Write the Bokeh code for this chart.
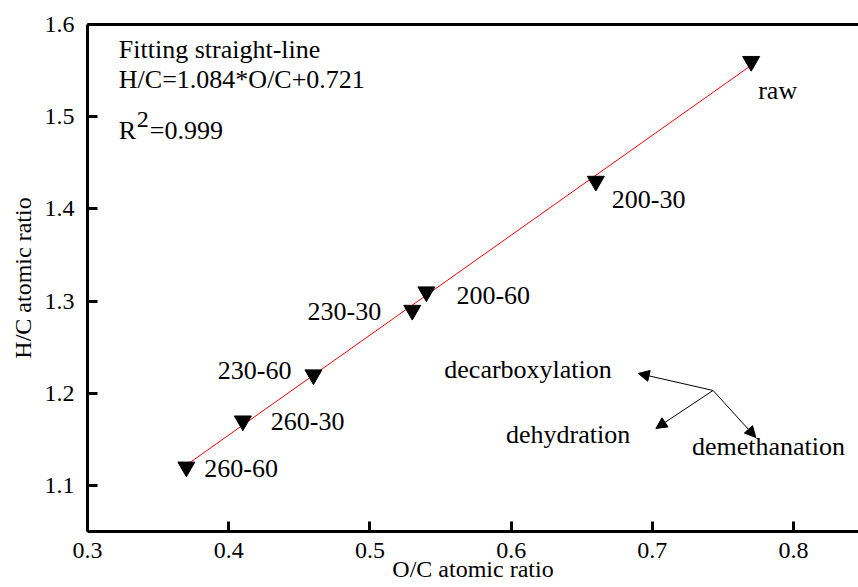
import math
from bokeh.plotting import figure
from bokeh.models import (Range1d, FixedTicker, LinearAxis, Label, Arrow,
                          NormalHead, ColumnDataSource)
from bokeh.embed import file_html
from bokeh.resources import INLINE

# ---------------- data ----------------
oc_ratio = [0.77, 0.66, 0.54, 0.53, 0.46, 0.41, 0.37]
hc_ratio = [1.56, 1.43, 1.31, 1.29, 1.22, 1.17, 1.12]
sample_names = ["raw", "200-30", "200-60", "230-30", "230-60", "260-30", "260-60"]

fit_slope = 1.084
fit_intercept = 0.721
fit_r2 = "0.999"

x_ticks = [0.3, 0.4, 0.5, 0.6, 0.7, 0.8]
y_ticks = [1.1, 1.2, 1.3, 1.4, 1.5, 1.6]

# reaction-pathway arrows (origin -> three directions)
arrow_origin = (0.743, 1.203)
arrow_names = ["decarboxylation", "dehydration", "demethanation"]
arrow_tips_x = [0.690, 0.7025, 0.7733]
arrow_tips_y = [1.2215, 1.1618, 1.152]

# ---------------- layout / style ----------------
FONT = "Liberation Serif"
label_dx = [7, 16, 30, -31, -22, 28, 18]
label_dy = [29, 18, 4, 1, -4, 1, 2]
label_align = ["left", "left", "left", "right", "right", "left", "left"]
arrow_label_pos = [(0.612, 1.2258), (0.6403, 1.1553), (0.7822, 1.1423)]

p = figure(width=858, height=587,
           x_range=Range1d(0.3, 0.846), y_range=Range1d(1.05, 1.6),
           output_backend="svg", toolbar_location=None,
           min_border_left=87, min_border_right=0,
           min_border_top=24, min_border_bottom=56)
p.outline_line_color = None
p.xgrid.visible = False
p.ygrid.visible = False
p.background_fill_color = "white"
p.border_fill_color = "white"

for ax, ticks in ((p.xaxis[0], x_ticks), (p.yaxis[0], y_ticks)):
    ax.ticker = FixedTicker(ticks=ticks)
    ax.axis_line_width = 3
    ax.axis_line_color = "black"
    ax.major_tick_in = 10
    ax.major_tick_out = 0
    ax.major_tick_line_width = 3
    ax.major_tick_line_color = "black"
    ax.minor_tick_line_color = None
    ax.major_label_text_font = FONT
    ax.major_label_text_font_size = "24px"
    ax.major_label_text_color = "black"
    ax.axis_label_text_font = FONT
    ax.axis_label_text_font_size = "24px"
    ax.axis_label_text_font_style = "normal"
    ax.axis_label_text_color = "black"
p.xaxis[0].major_label_standoff = 11
p.yaxis[0].major_label_standoff = 13
p.xaxis[0].axis_label = "O/C atomic ratio"
p.yaxis[0].axis_label = "H/C atomic ratio"
p.xaxis[0].axis_label_standoff = -5
p.yaxis[0].axis_label_standoff = 6

top = LinearAxis(ticker=FixedTicker(ticks=[]))
top.axis_line_width = 3
top.axis_line_color = "black"
top.major_tick_in = 0
top.major_tick_out = 0
top.minor_tick_line_color = None
top.major_label_standoff = 0
p.add_layout(top, "above")

# fitted line
fit_x = [min(oc_ratio), max(oc_ratio)]
fit_y = [fit_slope * x + fit_intercept for x in fit_x]
p.line(fit_x, fit_y, line_color="red", line_width=1)

# markers
p.scatter(oc_ratio, hc_ratio, marker="inverted_triangle", size=17,
          fill_color="black", line_color="black")

# point labels
for align in ("left", "right"):
    idx = [i for i, a in enumerate(label_align) if a == align]
    src = ColumnDataSource(dict(
        x=[oc_ratio[i] for i in idx], y=[hc_ratio[i] for i in idx],
        t=[sample_names[i] for i in idx],
        dx=[label_dx[i] for i in idx], dy=[label_dy[i] for i in idx]))
    p.text(x="x", y="y", text="t", x_offset="dx", y_offset="dy", source=src,
           text_align=align, text_baseline="middle",
           text_font={"value": FONT}, text_font_size="26px", text_color="black")

# arrows
for tx, ty in zip(arrow_tips_x, arrow_tips_y):
    p.add_layout(Arrow(end=NormalHead(size=11, fill_color="black", line_color="black", line_width=1),
                       x_start=arrow_origin[0], y_start=arrow_origin[1],
                       x_end=tx, y_end=ty, line_width=1, line_color="black"))
for name, (lx, ly) in zip(arrow_names, arrow_label_pos):
    p.add_layout(Label(x=lx, y=ly, text=name, text_align="center", text_baseline="middle",
                       text_font=FONT, text_font_size="26px", text_color="black"))

# fit annotation
ax0 = 0.3222
p.add_layout(Label(x=ax0, y=1.5734, text="Fitting straight-line", text_baseline="middle",
                   text_font=FONT, text_font_size="26px", text_color="black"))
p.add_layout(Label(x=ax0, y=1.5403, text="H/C=%.3f*O/C+%.3f" % (fit_slope, fit_intercept),
                   text_baseline="middle", text_font=FONT, text_font_size="26px",
                   text_color="black"))
p.add_layout(Label(x=ax0, y=1.485, text="R", text_baseline="middle",
                   text_font=FONT, text_font_size="26px", text_color="black"))
p.add_layout(Label(x=ax0, y=1.497, x_offset=18, text="2", text_baseline="middle",
                   text_font=FONT, text_font_size="24px", text_color="black"))
p.add_layout(Label(x=ax0, y=1.485, x_offset=31, text="=" + fit_r2, text_baseline="middle",
                   text_font=FONT, text_font_size="26px", text_color="black"))

open("out.html", "w").write(file_html(p, INLINE))
